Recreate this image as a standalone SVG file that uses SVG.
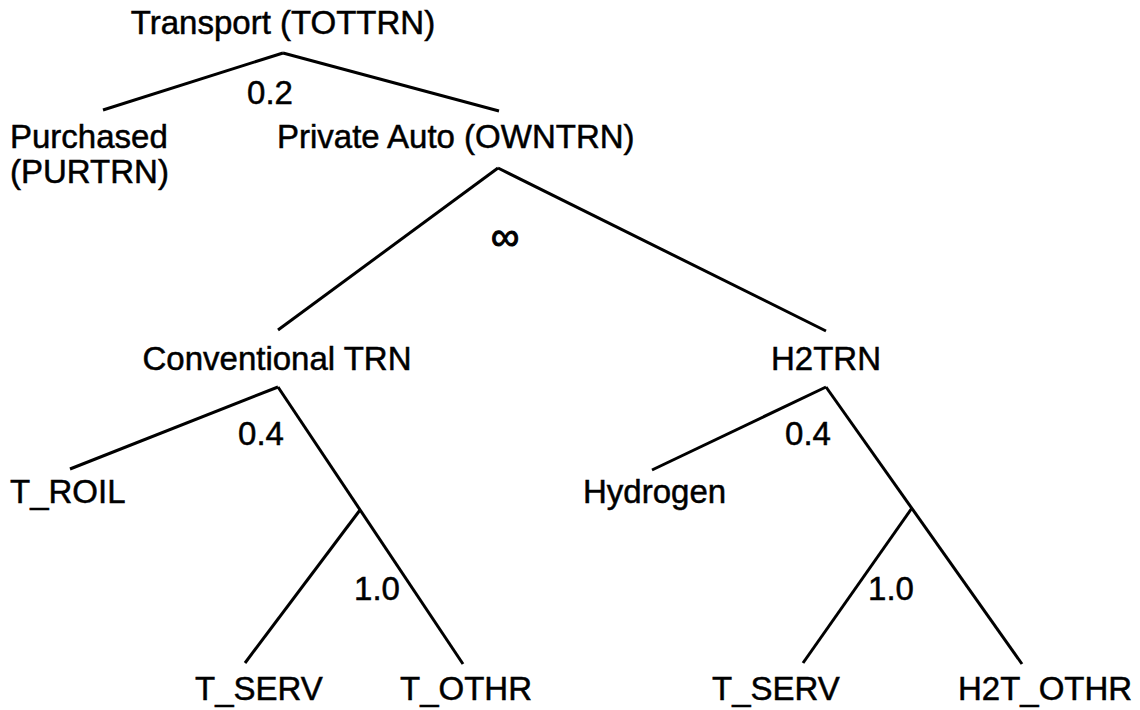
<svg xmlns="http://www.w3.org/2000/svg" width="1140" height="710" viewBox="0 0 1140 710">
<style>
text { font-family: "Liberation Sans", Arial, sans-serif; font-size: 33px; fill: #000; stroke: #000; stroke-width: 0.5; }
.c { text-anchor: middle; }
.inf { font-size: 40px; stroke-width: 1; }
.edge { stroke: #000; stroke-width: 3; fill: none; stroke-linecap: butt; }
</style>
<rect width="1140" height="710" fill="#fff"/>
<g id="connectors">
<line class="edge" x1="283" y1="53" x2="103" y2="110"/>
<line class="edge" x1="283" y1="53" x2="499" y2="111"/>
<line class="edge" x1="498" y1="168" x2="278" y2="330"/>
<line class="edge" x1="498" y1="168" x2="826" y2="331"/>
<line class="edge" x1="278" y1="387" x2="70" y2="469"/>
<line class="edge" x1="278" y1="387" x2="463" y2="664"/>
<line class="edge" x1="360" y1="510" x2="245" y2="663"/>
<line class="edge" x1="826" y1="387" x2="652" y2="470"/>
<line class="edge" x1="826" y1="387" x2="1022" y2="664"/>
<line class="edge" x1="912" y1="508" x2="803" y2="663"/>
</g>
<g id="labels">
<text class="c" x="270" y="104">0.2</text>
<text class="c inf" x="505" y="250">∞</text>
<text class="c" x="261" y="445">0.4</text>
<text class="c" x="377" y="600">1.0</text>
<text class="c" x="808" y="445">0.4</text>
<text class="c" x="891" y="600">1.0</text>
</g>
<g id="node-tottrn"><text class="c" x="283" y="34">Transport (TOTTRN)</text></g>
<g id="node-purtrn"><text x="10" y="148">Purchased</text><text x="10" y="183">(PURTRN)</text></g>
<g id="node-owntrn"><text x="277" y="148">Private Auto (OWNTRN)</text></g>
<g id="node-conv"><text class="c" x="277" y="370">Conventional TRN</text></g>
<g id="node-h2trn"><text x="771" y="370">H2TRN</text></g>
<g id="node-troil"><text x="10" y="503">T_ROIL</text></g>
<g id="node-hydrogen"><text x="583" y="503">Hydrogen</text></g>
<g id="node-tserv1"><text x="195" y="700">T_SERV</text></g>
<g id="node-tothr"><text x="400" y="700">T_OTHR</text></g>
<g id="node-tserv2"><text x="712" y="700">T_SERV</text></g>
<g id="node-h2tothr"><text x="958" y="700">H2T_OTHR</text></g>
</svg>
